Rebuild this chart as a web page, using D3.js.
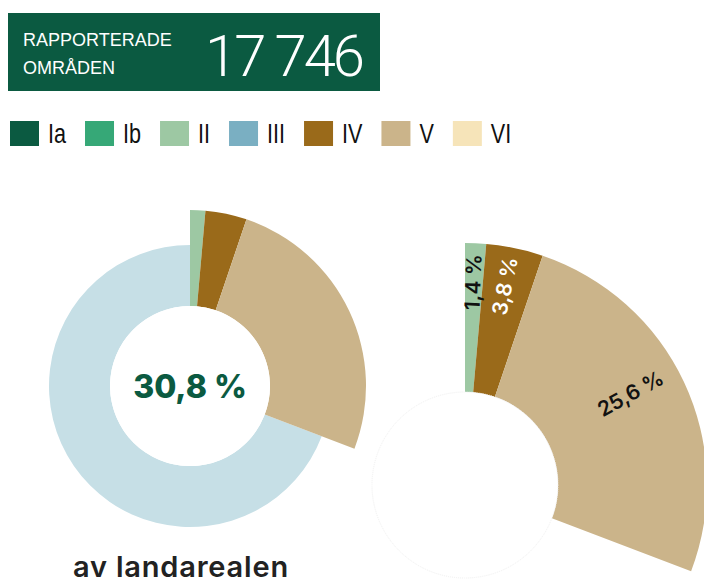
<!DOCTYPE html>
<html>
<head>
<meta charset="utf-8">
<script src="https://cdn.jsdelivr.net/npm/d3@7"></script>
<style>
  body { margin: 0; background: #fff; }
  svg { display: block; }
</style>
</head>
<body>
<div id="chart"></div>
<script>
const categories = ["Ia", "Ib", "II", "III", "IV", "V", "VI"];
const categoryColors = ["#0b5a41", "#36a877", "#9dc8a3", "#7aafc2", "#9a6a1a", "#cbb48a", "#f6e4b9"];

// andel av landarealen per kategori (%)
const shareCategories = ["II", "IV", "V"];
const shareValues = [1.4, 3.8, 25.6];
const shareLabels = ["1,4 %", "3,8 %", "25,6 %"];
const totalLabel = "30,8 %";
const restValue = 69.2;

const width = 704, height = 583;
const svg = d3.select("#chart").append("svg")
  .attr("width", width)
  .attr("height", height);

// header box
const header = svg.append("g");
header.append("rect")
  .attr("x", 8).attr("y", 13)
  .attr("width", 372).attr("height", 78)
  .attr("fill", "#0b5a41");
header.append("text")
  .attr("x", 23).attr("y", 46)
  .attr("fill", "#fff")
  .style("font", "18px 'Liberation Sans', Arial, sans-serif")
  .text("RAPPORTERADE");
header.append("text")
  .attr("x", 23).attr("y", 74)
  .attr("fill", "#fff")
  .style("font", "18px 'Liberation Sans', Arial, sans-serif")
  .text("OMRÅDEN");
header.append("text")
  .attr("x", 205).attr("y", 76)
  .attr("fill", "#fff")
  .style("font-family", "Roboto, sans-serif")
  .style("font-weight", 300)
  .style("font-size", "58px")
  .style("letter-spacing", "-3px")
  .text("17 746");

// legend
const color = d3.scaleOrdinal().domain(categories).range(categoryColors);
const legend = svg.append("g");
let lx = 10;
categories.forEach((c) => {
  const item = legend.append("g").attr("transform", `translate(${lx},121)`);
  item.append("rect")
    .attr("width", 29).attr("height", 25)
    .attr("fill", color(c));
  const t = item.append("text")
    .attr("transform", "translate(38,22) scale(0.8,1)")
    .attr("fill", "#111")
    .style("font", "27px 'Liberation Sans', Arial, sans-serif")
    .text(c);
  lx += 38 + t.node().getComputedTextLength() * 0.8 + 19;
});

// pie angles
const pie = d3.pie().sort(null).value((d) => d.value);
const pieData = pie(
  shareCategories.map((c, i) => ({ cat: c, value: shareValues[i], label: shareLabels[i] }))
    .concat([{ cat: "rest", value: restValue }])
);
const slices = pieData.filter((d) => d.data.cat !== "rest");
const rest = pieData.find((d) => d.data.cat === "rest");

// left donut
const left = svg.append("g").attr("transform", "translate(190,386)");
left.append("path")
  .attr("d", d3.arc().innerRadius(80).outerRadius(141)(rest))
  .attr("fill", "#c6dfe6");
left.selectAll("path.slice")
  .data(slices)
  .join("path")
  .attr("class", "slice")
  .attr("d", d3.arc().innerRadius(80).outerRadius(176))
  .attr("fill", (d) => color(d.data.cat));
left.append("circle").attr("r", 80).attr("fill", "#fff");
left.append("text")
  .attr("y", 12)
  .attr("text-anchor", "middle")
  .attr("fill", "#0b5a41")
  .style("font-family", "Inter, sans-serif")
  .style("font-weight", 800)
  .style("font-size", "32px")
  .text(totalLabel);

svg.append("text")
  .attr("x", 181).attr("y", 577)
  .attr("text-anchor", "middle")
  .attr("fill", "#222")
  .style("font-family", "Inter, sans-serif")
  .style("font-weight", 600)
  .style("font-size", "29px")
  .style("letter-spacing", "0.8px")
  .text("av landarealen");

// right, enlarged segments
const rIn = 93, rOut = 242;
const right = svg.append("g").attr("transform", "translate(465,485)");
right.selectAll("path")
  .data(slices)
  .join("path")
  .attr("d", d3.arc().innerRadius(rIn).outerRadius(rOut))
  .attr("fill", (d) => color(d.data.cat));
right.append("circle")
  .attr("r", rIn)
  .attr("fill", "#fff")
  .attr("stroke", "#f0f0f0")
  .attr("stroke-dasharray", "1,1");

const labelR = [203, 203, 189];
right.selectAll("text")
  .data(slices)
  .join("text")
  .attr("transform", (d, i) => {
    const a = d.startAngle + (d.endAngle - d.startAngle) * 0.46;
    const deg = a * 180 / Math.PI;
    const x = Math.sin(a) * labelR[i];
    const y = -Math.cos(a) * labelR[i];
    return `translate(${x},${y}) rotate(${deg - 90})`;
  })
  .attr("text-anchor", "middle")
  .attr("dy", "0.35em")
  .attr("fill", (d) => d.data.cat === "IV" ? "#fff" : "#111")
  .style("font-family", "Inter, sans-serif")
  .style("font-weight", 600)
  .style("font-size", "21px")
  .text((d) => d.data.label);
</script>
</body>
</html>
